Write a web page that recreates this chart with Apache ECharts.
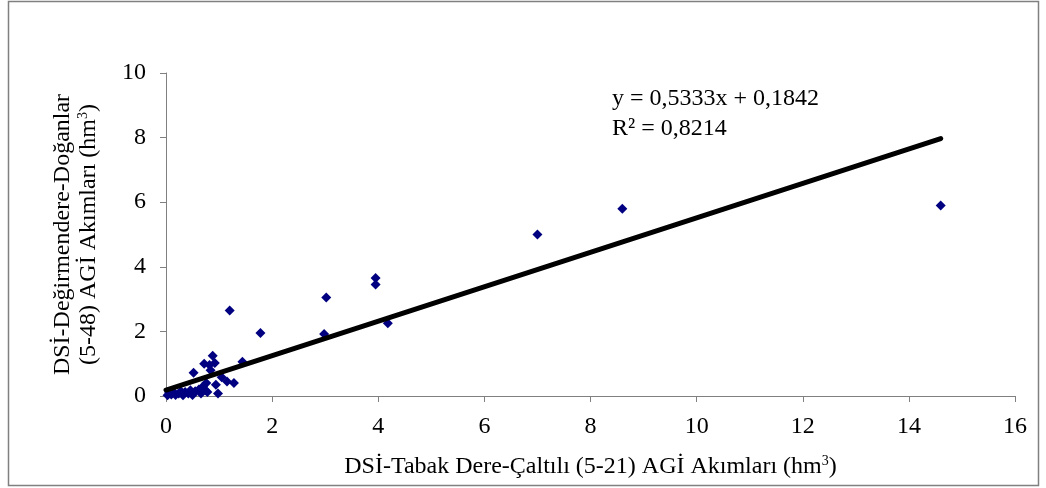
<!DOCTYPE html>
<html><head><meta charset="utf-8">
<script src="https://cdn.jsdelivr.net/npm/echarts@6/dist/echarts.min.js"></script>
<style>html,body{margin:0;padding:0;background:#fff}#c{width:1046px;height:488px}</style>
</head><body><div id="c"></div>
<script>
const xValues = [0.03,0.06,0.10,0.14,0.18,0.24,0.28,0.32,0.36,0.42,0.46,0.50,0.52,0.55,0.62,0.66,0.70,0.72,0.74,0.76,0.78,0.82,0.84,0.88,0.92,0.94,0.98,1.05,1.15,1.20,1.28,1.44,1.78,2.98,3.02,3.95,3.95,4.18,7.0,8.6,14.6];
const yValues = [0.02,0.10,0.05,0.12,0.03,0.08,0.15,0.02,0.12,0.08,0.18,0.03,0.72,0.15,0.20,0.08,0.30,1.00,0.18,0.40,0.12,0.96,0.80,1.25,1.02,0.35,0.08,0.58,0.45,2.65,0.40,1.06,1.95,1.92,3.05,3.65,3.45,2.25,5.0,5.8,5.9];
const slope = 0.5333, intercept = 0.1842;
const trendX = [0, 14.6];
const xTicks = [0,2,4,6,8,10,12,14,16];
const yTicks = [0,2,4,6,8,10];
const eqText = ['y = 0,5333x + 0,1842', 'R² = 0,8214'];

const points = xValues.map((x,i)=>[x,yValues[i]]);
const trend = trendX.map(x=>[x, slope*x+intercept]);
const font = '"Liberation Serif","Times New Roman",serif';
const FS = 24;

const chart = echarts.init(document.getElementById('c'));
chart.setOption({
  animation:false,
  backgroundColor:'#fff',
  grid:{left:166,right:31,top:73,bottom:92},
  xAxis:{type:'value',min:0,max:16,interval:2,
    axisLine:{show:true,onZero:false,lineStyle:{color:'#808080',width:1}},
    axisTick:{show:true,inside:false,length:6,lineStyle:{color:'#808080'}},
    splitLine:{show:false},
    axisLabel:{fontFamily:font,fontSize:FS,color:'#000',margin:19},
    name:'DSİ-Tabak Dere-Çaltılı (5-21) AGİ Akımları (hm{s|3})',
    nameLocation:'middle',nameGap:58,
    nameTextStyle:{fontFamily:font,fontSize:FS,color:'#000',rich:{s:{fontFamily:font,fontSize:14,verticalAlign:'top',padding:[0,0,12,0]}}}
  },
  yAxis:{type:'value',min:0,max:10,interval:2,
    axisLine:{show:true,onZero:false,lineStyle:{color:'#808080',width:1}},
    axisTick:{show:true,inside:false,length:6,lineStyle:{color:'#808080'}},
    splitLine:{show:false},
    axisLabel:{fontFamily:font,fontSize:FS,color:'#000',margin:20},
    name:'DSİ-Değirmendere-Doğanlar\n(5-48) AGİ Akımları (hm{s|3})',
    nameLocation:'middle',nameGap:64,nameRotate:90,
    nameTextStyle:{fontFamily:font,fontSize:FS,color:'#000',lineHeight:26,rich:{s:{fontFamily:font,fontSize:14,verticalAlign:'top',padding:[0,0,12,0]}}}
  },
  series:[
    {type:'line',data:trend,symbol:'none',lineStyle:{color:'#000',width:5,cap:'round'},z:3},
    {type:'scatter',data:points,symbol:'diamond',symbolSize:[10,10],itemStyle:{color:'#000080',opacity:1},z:2}
  ],
  graphic:[
    {type:'rect',shape:{x:8.5,y:1.5,width:1030,height:484},style:{fill:'none',stroke:'#808080',lineWidth:1.5},silent:true},
    {type:'text',left:612,top:84,style:{text:eqText.join('\n'),font:FS+'px '+font,fill:'#000',lineHeight:30}}
  ]
});
</script></body></html>
